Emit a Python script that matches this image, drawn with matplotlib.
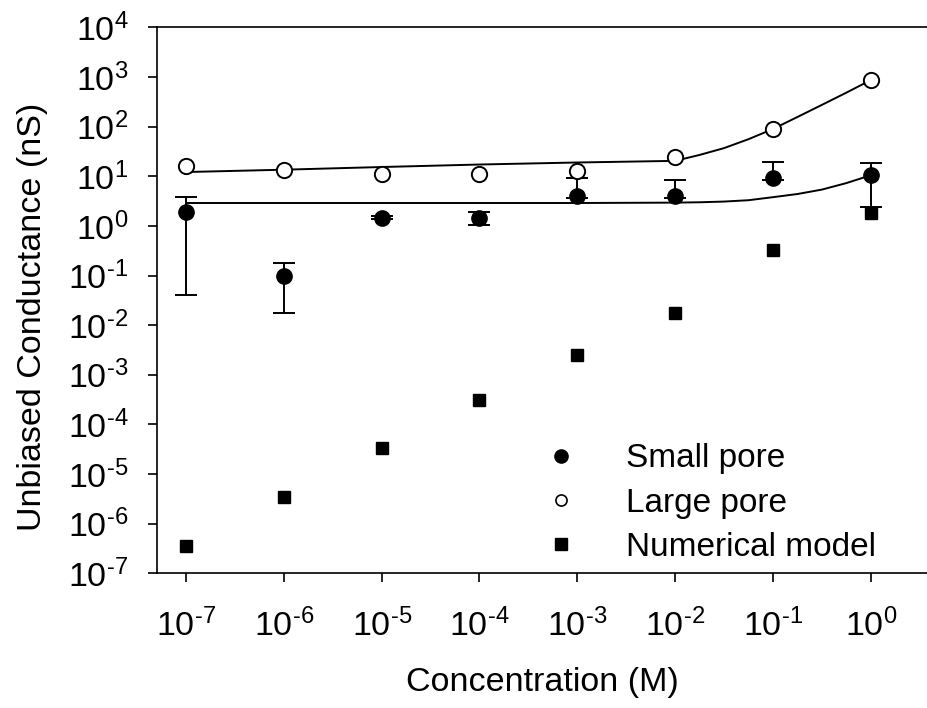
import matplotlib
matplotlib.use('Agg')
import matplotlib.pyplot as plt
from matplotlib.lines import Line2D

plt.rcParams['font.family'] = ['Liberation Sans', 'DejaVu Sans']
plt.rcParams['mathtext.fontset'] = 'custom'
plt.rcParams['mathtext.rm'] = 'Liberation Sans'
plt.rcParams['mathtext.it'] = 'Liberation Sans'
plt.rcParams['mathtext.default'] = 'regular'

# concentrations (M)
conc = [1e-7, 1e-6, 1e-5, 1e-4, 1e-3, 1e-2, 1e-1, 1e0]

# small pore: value and asymmetric error (lower, upper)
small = [1.9, 0.10, 1.45, 1.45, 4.0, 4.0, 9.1, 10.5]
small_lo = [1.86, 0.082, 0.05, 0.41, 0.3, 0.3, 0.5, 8.1]
small_hi = [1.9, 0.08, 0.1, 0.45, 5.2, 4.3, 10.4, 8.1]

# large pore
large = [16.0, 13.4, 11.0, 11.0, 12.7, 24.6, 89.0, 870.0]
large_err = [2.0, 1.6, 1.4, 1.4, 1.6, 3.0, 10.0, 95.0]

# numerical model
model = [3.5e-7, 3.4e-6, 3.3e-5, 3.1e-4, 2.5e-3, 0.018, 0.32, 1.8]

# fitted curves
fit_conc = [1e-7, 1e-6, 1e-5, 1e-4, 1e-3, 1e-2, 1.78e-2, 3.16e-2, 5.62e-2,
            1e-1, 1.78e-1, 3.16e-1, 5.62e-1, 1e0]
fit_large = [12.2, 13.6, 15.4, 17.3, 19.0, 20.5, 27.0, 37.0, 56.0,
             90.0, 157.0, 275.0, 485.0, 870.0]
fit_small = [2.9, 2.9, 2.9, 2.9, 2.9, 2.95, 3.0, 3.1, 3.3,
             3.8, 4.4, 5.4, 7.3, 10.5]

xticks = [1e-7, 1e-6, 1e-5, 1e-4, 1e-3, 1e-2, 1e-1, 1e0]
xticklabels = ['$10^{\\text{-7}}$', '$10^{\\text{-6}}$', '$10^{\\text{-5}}$',
               '$10^{\\text{-4}}$', '$10^{\\text{-3}}$', '$10^{\\text{-2}}$',
               '$10^{\\text{-1}}$', '$10^{0}$']
yticks = [1e-7, 1e-6, 1e-5, 1e-4, 1e-3, 1e-2, 1e-1, 1e0, 1e1, 1e2, 1e3, 1e4]
yticklabels = ['$10^{\\text{-7}}$', '$10^{\\text{-6}}$', '$10^{\\text{-5}}$',
               '$10^{\\text{-4}}$', '$10^{\\text{-3}}$', '$10^{\\text{-2}}$',
               '$10^{\\text{-1}}$', '$10^{0}$', '$10^{1}$', '$10^{2}$',
               '$10^{3}$', '$10^{4}$']

fig = plt.figure(figsize=(9.28, 7.08), dpi=100)
ax = fig.add_axes([0.1692, 0.1903, 0.8308, 0.7709])

ax.plot(fit_conc, fit_large, color='black', lw=1.4, zorder=2)
ax.plot(fit_conc, fit_small, color='black', lw=1.4, zorder=2)

ax.errorbar(conc, small, yerr=[small_lo, small_hi], fmt='o', color='black',
            ms=11, elinewidth=1.4, capsize=8, capthick=1.4, zorder=3)
ax.errorbar(conc, large, yerr=large_err, fmt='o', mfc='white', mec='black',
            mew=1.4, color='black', ms=11, elinewidth=1.2, capsize=4,
            capthick=1.2, zorder=3)
ax.plot(conc, model, 's', color='black', ms=9, zorder=4)

ax.set_xscale('log')
ax.set_yscale('log')
ax.set_xlim(10**-7.2965, 10**0.585)
ax.set_ylim(1e-7, 1e4)
ax.set_xticks(xticks)
ax.set_xticklabels(xticklabels)
ax.set_yticks(yticks)
ax.set_yticklabels(yticklabels)
ax.minorticks_off()

ax.tick_params(axis='x', direction='out', length=6.5, width=1.2,
               labelsize=24.5, pad=19)
ax.tick_params(axis='y', direction='out', length=6.5, width=1.2,
               labelsize=24.5, pad=14)
ax.spines['right'].set_visible(False)
for s in ['left', 'bottom', 'top']:
    ax.spines[s].set_linewidth(1.2)

ax.set_xlabel('Concentration (M)', fontsize=24.5)
ax.set_ylabel('Unbiased Conductance (nS)', fontsize=24.5)
ax.xaxis.set_label_coords(0.5, -0.1717)
ax.yaxis.set_label_coords(-0.1414, 0.47)

handles = [
    Line2D([], [], ls='none', marker='o', color='black', ms=9.5),
    Line2D([], [], ls='none', marker='o', mfc='white', mec='black', mew=1.2, ms=8),
    Line2D([], [], ls='none', marker='s', color='black', ms=8),
]
labels = ['Small pore', 'Large pore', 'Numerical model']
ax.legend(handles, labels, loc='upper left', bbox_to_anchor=(0.503, 0.238),
          frameon=False, fontsize=24, handlelength=1.0, handletextpad=1.44,
          labelspacing=0.4, borderpad=0, borderaxespad=0)

plt.savefig('out.png', dpi=100)
